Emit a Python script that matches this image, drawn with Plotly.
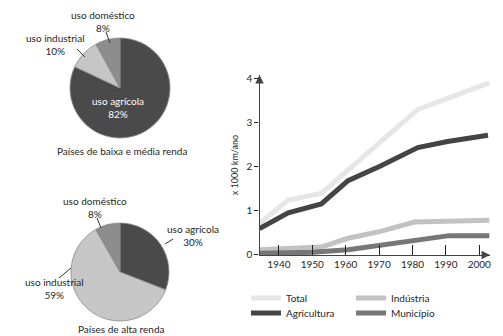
import plotly.graph_objects as go

W, H = 503, 336

# ---------------- data ----------------
pie_labels = ["uso agrícola", "uso industrial", "uso doméstico"]
pie_low_values = [82, 10, 8]
pie_high_values = [30, 59, 8]
pie_colors = ["#4a4a4a", "#c6c6c6", "#8d8d8d"]
pie_low_title = "Países de baixa e média renda"
pie_high_title = "Países de alta renda"

years_total = [1934.2, 1942.8, 1952.7, 1981.6, 2003.0]
total = [0.70, 1.23, 1.38, 3.29, 3.89]

years_agri = [1934.2, 1942.8, 1952.7, 1960.7, 1970.1, 1981.6, 1990.5, 2002.6]
agricultura = [0.58, 0.94, 1.14, 1.67, 1.99, 2.42, 2.56, 2.70]

years_ind = [1934.2, 1952.7, 1960.7, 1970.1, 1980.6, 1990.5, 2003.0]
industria = [0.10, 0.16, 0.36, 0.51, 0.73, 0.75, 0.77]

years_mun = [1934.2, 1950.0, 1960.7, 1970.1, 1980.6, 1991.0, 2003.0]
municipio = [0.02, 0.04, 0.10, 0.20, 0.31, 0.42, 0.42]

x_ticks = [1940, 1950, 1960, 1970, 1980, 1990, 2000]
y_ticks = [0, 1, 2, 3, 4]
y_title = "x 1000 km/ano"

FONT = "Lato, 'Liberation Sans', Arial, sans-serif"
TXT = "#262626"


def px(x):
    return x / W


def py(y):
    return 1 - y / H


fig = go.Figure()

# ---------------- pies ----------------
fig.add_trace(go.Pie(
    labels=pie_labels, values=pie_low_values, sort=False,
    direction="clockwise", rotation=0, textinfo="none", hoverinfo="label+percent",
    marker=dict(colors=pie_colors, line=dict(color="#8a8a8a", width=0.8)),
    domain=dict(x=[px(70), px(170)], y=[py(138), py(38)]),
    showlegend=False,
))
fig.add_trace(go.Pie(
    labels=pie_labels, values=pie_high_values, sort=False,
    direction="clockwise", rotation=0, textinfo="none", hoverinfo="label+percent",
    marker=dict(colors=pie_colors, line=dict(color="#8a8a8a", width=0.8)),
    domain=dict(x=[px(71), px(169)], y=[py(321), py(223)]),
    showlegend=False,
))

# ---------------- lines ----------------
fig.add_trace(go.Scatter(x=years_total, y=total, mode="lines", name="Total",
                         line=dict(color="#e6e6e6", width=5), legend="legend"))
fig.add_trace(go.Scatter(x=years_ind, y=industria, mode="lines", name="Indústria",
                         line=dict(color="#c2c2c2", width=5), legend="legend2"))
fig.add_trace(go.Scatter(x=years_mun, y=municipio, mode="lines", name="Município",
                         line=dict(color="#777777", width=5), legend="legend4"))
fig.add_trace(go.Scatter(x=years_agri, y=agricultura, mode="lines", name="Agricultura",
                         line=dict(color="#444444", width=5), legend="legend3"))

annotations = []


def pie_label(text, x, y, color=TXT):
    annotations.append(dict(text=text, x=px(x), y=py(y), xref="paper", yref="paper",
                            showarrow=False, xanchor="center", yanchor="middle",
                            font=dict(family=FONT, size=10, color=color)))


def lbl(name, val):
    return f"{name}<br>{val}%"


# pie 1 labels
pie_label(lbl(pie_labels[0], pie_low_values[0]), 118, 107, "white")
pie_label(lbl(pie_labels[1], pie_low_values[1]), 55, 45)
pie_label(lbl(pie_labels[2], pie_low_values[2]), 103, 21)
pie_label(pie_low_title, 122, 151)
# pie 2 labels
pie_label(lbl(pie_labels[2], pie_high_values[2]), 95, 207)
pie_label(lbl(pie_labels[0], pie_high_values[0]), 193, 235)
pie_label(lbl(pie_labels[1], pie_high_values[1]), 54, 288)
pie_label(pie_high_title, 121, 329)

shapes = []


def leader(x0, y0, x1, y1):
    shapes.append(dict(type="line", xref="paper", yref="paper",
                       x0=px(x0), y0=py(y0), x1=px(x1), y1=py(y1),
                       line=dict(color="#333333", width=1)))


leader(77, 49, 85, 57)
leader(106, 32, 110, 43)
leader(97, 218, 101, 228)
leader(165, 244, 173, 239)
leader(59, 278, 71, 268)

# axis arrows
annotations.append(dict(x=0, y=1, xref="x domain", yref="y domain", ax=0, ay=9,
                        text="", showarrow=True,
                        arrowhead=2, arrowsize=1.3, arrowwidth=1.3, arrowcolor="#444444"))
annotations.append(dict(x=1, y=0, xref="x domain", yref="y domain", ax=-9, ay=0,
                        text="", showarrow=True,
                        arrowhead=2, arrowsize=1.3, arrowwidth=1.3, arrowcolor="#444444"))

legend_common = dict(xanchor="left", yanchor="middle", orientation="v",
                     font=dict(size=10, color=TXT), itemwidth=30,
                     bgcolor="rgba(0,0,0,0)", borderwidth=0)

fig.update_layout(
    width=W, height=H,
    margin=dict(l=0, r=0, t=0, b=0, autoexpand=False),
    paper_bgcolor="white", plot_bgcolor="white",
    font=dict(family=FONT, size=10, color=TXT),
    xaxis=dict(domain=[px(259.5), px(490)], range=[1934.2, 2003.2],
               tickvals=x_ticks, ticks="inside", ticklen=10, tickwidth=1.2,
               tickcolor="#222222", showline=True, linecolor="#444444", linewidth=1.3,
               showgrid=False, zeroline=False, tickfont=dict(size=10, color=TXT)),
    yaxis=dict(domain=[py(255), py(75)], range=[-0.02, 4.07],
               tickvals=y_ticks, ticks="outside", ticklen=4, tickwidth=1.2,
               tickcolor="#222222", showline=True, linecolor="#444444", linewidth=1.3,
               showgrid=False, zeroline=False, tickfont=dict(size=10, color=TXT),
               title=dict(text=y_title, font=dict(size=9, color=TXT), standoff=6)),
    legend=dict(x=px(246), y=py(298), **legend_common),
    legend2=dict(x=px(351), y=py(298), **legend_common),
    legend3=dict(x=px(246), y=py(313), **legend_common),
    legend4=dict(x=px(351), y=py(313), **legend_common),
    annotations=annotations,
    shapes=shapes,
)

fig.write_html("out.html")
